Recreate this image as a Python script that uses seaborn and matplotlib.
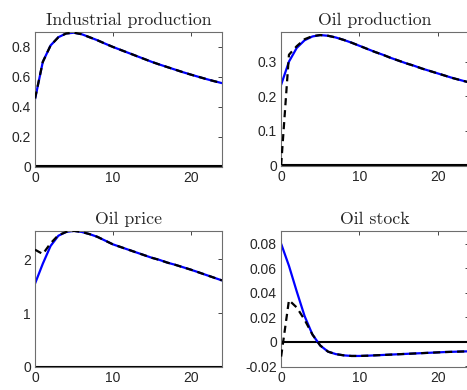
import numpy as np
import pandas as pd
import matplotlib
matplotlib.use("Agg")
import matplotlib.pyplot as plt
import seaborn as sns

horizon = list(range(25))

titles = ["Industrial production", "Oil production", "Oil price", "Oil stock"]

ip_solid = [0.45, 0.70, 0.81, 0.865, 0.89, 0.895, 0.885, 0.865, 0.845, 0.822, 0.80,
            0.78, 0.76, 0.74, 0.72, 0.70, 0.682, 0.665, 0.648, 0.631, 0.615,
            0.600, 0.585, 0.571, 0.558]
ip_dash = [0.455] + ip_solid[1:]

op_solid = [0.233, 0.30, 0.34, 0.362, 0.373, 0.377, 0.375, 0.370, 0.363, 0.355, 0.346,
            0.337, 0.328, 0.320, 0.311, 0.303, 0.295, 0.288, 0.280, 0.273, 0.266,
            0.259, 0.252, 0.246, 0.240]
op_dash = [0.0, 0.32, 0.345, 0.365, 0.374] + op_solid[5:]

pr_solid = [1.55, 1.92, 2.25, 2.44, 2.51, 2.53, 2.51, 2.47, 2.42, 2.35, 2.28,
            2.23, 2.18, 2.13, 2.08, 2.03, 1.99, 1.94, 1.90, 1.855, 1.81,
            1.76, 1.71, 1.66, 1.61]
pr_dash = [2.18, 2.10, 2.30, 2.45, 2.51] + pr_solid[5:]

st_solid = [0.080, 0.062, 0.041, 0.021, 0.006, -0.003, -0.008, -0.010, -0.011, -0.0115, -0.0115,
            -0.0113, -0.011, -0.0107, -0.0104, -0.0101, -0.0098, -0.0095, -0.0092, -0.0089, -0.0086,
            -0.0083, -0.0081, -0.0079, -0.0077]
st_dash = [-0.012, 0.034, 0.028, 0.018, 0.006] + st_solid[5:]

solids = [ip_solid, op_solid, pr_solid, st_solid]
dashes = [ip_dash, op_dash, pr_dash, st_dash]

ylims = [(-0.003, 0.9), (-0.003, 0.386), (0.0, 2.53), (-0.0205, 0.0905)]
yticks = [[0, 0.2, 0.4, 0.6, 0.8], [0, 0.1, 0.2, 0.3], [0, 1, 2],
          [-0.02, 0, 0.02, 0.04, 0.06, 0.08]]
ytick_labels = [["0", "0.2", "0.4", "0.6", "0.8"], ["0", "0.1", "0.2", "0.3"], ["0", "1", "2"],
                ["-0.02", "0", "0.02", "0.04", "0.06", "0.08"]]
xticks = [0, 10, 20]

sns.set_style("white")
plt.rcParams['font.family'] = ['Liberation Sans', 'DejaVu Sans']

fig = plt.figure(figsize=(4.67, 3.90), dpi=100)
positions = [
    [0.075, 0.572, 0.400, 0.346],
    [0.602, 0.574, 0.402, 0.344],
    [0.075, 0.059, 0.400, 0.349],
    [0.602, 0.059, 0.402, 0.349],
]

for i in range(4):
    ax = fig.add_axes(positions[i])
    df = pd.DataFrame({"h": horizon, "solid": solids[i], "dash": dashes[i]})
    ax.axhline(0, color="black", lw=1.5, zorder=1)
    sns.lineplot(data=df, x="h", y="solid", ax=ax, color="#0000ff", lw=1.6, zorder=2)
    sns.lineplot(data=df, x="h", y="dash", ax=ax, color="black", lw=1.6,
                 dashes=False, zorder=3)
    ax.lines[-1].set_linestyle((0, (3.2, 2.2)))
    ax.set_xlim(0, 24)
    ax.set_ylim(*ylims[i])
    ax.set_xticks(xticks)
    ax.set_xticklabels([str(t) for t in xticks])
    ax.set_yticks(yticks[i])
    ax.set_yticklabels(ytick_labels[i])
    ax.set_xlabel("")
    ax.set_ylabel("")
    ax.set_title(titles[i], fontfamily="cmr10", fontsize=12.8, pad=5)
    ax.tick_params(direction="in", length=3, width=0.6, top=True, right=True,
                   labelsize=10, colors="#262626", pad=3)
    for s in ax.spines.values():
        s.set_visible(True)
        s.set_color("#6e6e6e")
        s.set_linewidth(0.8)

fig.savefig("out.png", dpi=100)
